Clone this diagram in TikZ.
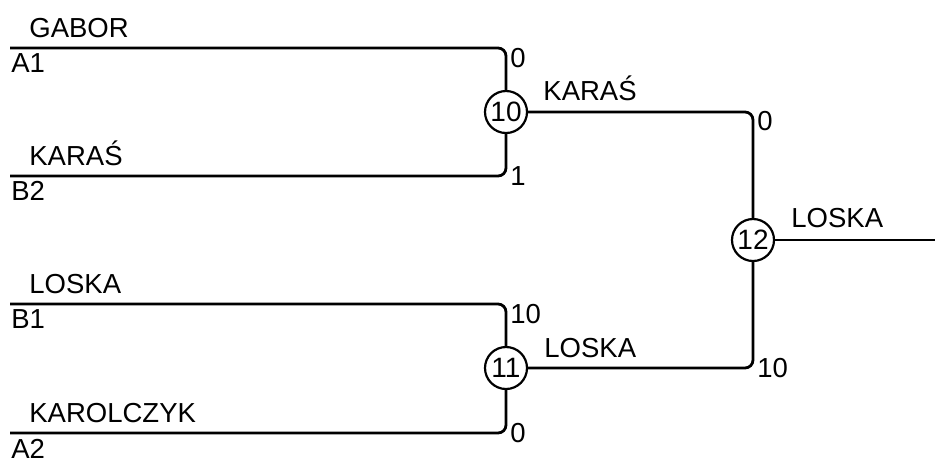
\documentclass[tikz,border=0pt]{standalone}
\usepackage{fontspec}
\setmainfont{Liberation Sans}
\begin{document}
\begin{tikzpicture}[x=0.5pt,y=-0.5pt,
    wire/.style={line width=1.4pt, rounded corners=4pt},
    match/.style={circle, draw, line width=1.1pt, inner sep=0pt, minimum size=21pt, font=\fontsize{14}{16}\selectfont},
    txt/.style={anchor=base west, inner sep=0pt, font=\fontsize{13.75}{16}\selectfont}]
    \useasboundingbox (0,0) rectangle (935,457);
    \coordinate (A1) at (10,48);
    \coordinate (B2) at (10,176);
    \coordinate (B1) at (10,304);
    \coordinate (A2) at (10,433);
    \coordinate (W) at (935,240);
    \node[match] (M10) at (506,112) {10};
    \node[match] (M11) at (506,368) {11};
    \node[match] (M12) at (753,240) {12};
    % players
    \node[txt] (nA1) at (29,37) {GABOR};
    \node[txt] (sA1) at (11,72) {A1};
    \node[txt] (nB2) at (29,165) {KARAŚ};
    \node[txt] (sB2) at (11,200) {B2};
    \node[txt] (nB1) at (29,293) {LOSKA};
    \node[txt] (sB1) at (11,328) {B1};
    \node[txt] (nA2) at (29,422) {KAROLCZYK};
    \node[txt] (sA2) at (11,458) {A2};
    \draw[wire] (A1) -| (M10);
    \draw[wire] (B2) -| (M10);
    \draw[wire] (B1) -| (M11);
    \draw[wire] (A2) -| (M11);
    \draw[wire] (M10) -| (M12);
    \draw[wire] (M11) -| (M12);
    \draw[wire] (M12) -- (W);
    % scores
    \node[txt] (pA1) at (510,67) {0};
    \node[txt] (pB2) at (510,185) {1};
    \node[txt] (pB1) at (510,323) {10};
    \node[txt] (pA2) at (510,442) {0};
    \node[txt] (p10) at (757,130) {0};
    \node[txt] (p11) at (757,377) {10};
    % winners
    \node[txt] (w10) at (543,100) {KARAŚ};
    \node[txt] (w11) at (544,357) {LOSKA};
    \node[txt] (w12) at (791,227) {LOSKA};
\end{tikzpicture}
\end{document}
